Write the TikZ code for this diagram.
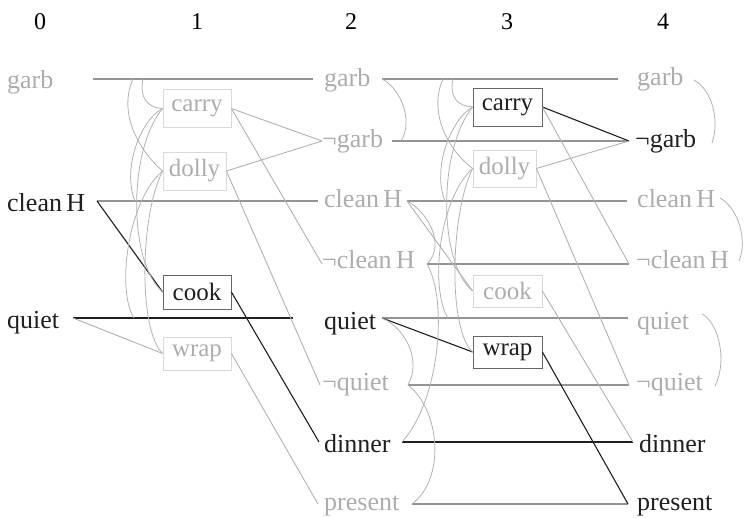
\documentclass[tikz,border=0pt]{standalone}
\usepackage{fontspec}
\setmainfont{Liberation Serif}
\definecolor{txtgray}{gray}{0.68}
\definecolor{persgray}{gray}{0.58}
\definecolor{thingray}{gray}{0.70}
\definecolor{boxoff}{gray}{0.85}
\definecolor{boxon}{gray}{0.40}
\definecolor{ink}{gray}{0.12}
\begin{document}
\begin{tikzpicture}[x=1pt,y=-1pt,
  lbl/.style={anchor=base west, inner sep=0pt, font=\fontsize{26}{30}\selectfont},
  num/.style={inner sep=0pt, font=\fontsize{24}{28}\selectfont},
  dim/.style={text=txtgray},
  lit/.style={text=ink},
  act/.style={draw, rectangle, inner sep=0pt, line width=0.8pt, font=\fontsize{25}{30}\selectfont},
  actoff/.style={act, draw=boxoff, text=txtgray},
  acton/.style={act, draw=boxon, text=ink},
  pers/.style={draw=persgray, line width=1.7pt},
  perslit/.style={draw=ink, line width=1.6pt},
  link/.style={draw=thingray, line width=0.9pt},
  linklit/.style={draw=ink, line width=1.1pt},
  mutex/.style={draw=thingray, line width=0.8pt}
]
\useasboundingbox (0,0) rectangle (744,518);

% level numbers
\node[num] (n0) at (40,22) {0};
\node[num] (n1) at (197,22) {1};
\node[num] (n2) at (351,22) {2};
\node[num] (n3) at (507,22) {3};
\node[num] (n4) at (663,22) {4};

% ---- propositions, level 0
\node[lbl,dim] (garb0) at (7,89) {garb};
\node[lbl,lit] (clean0) at (7,212) {clean\,H};
\node[lbl,lit] (quiet0) at (7,329) {quiet};

% ---- propositions, level 2
\node[lbl,dim] (garb2)  at (324,87)  {garb};
\node[lbl,dim] (ngarb2) at (322,148) {¬garb};
\node[lbl,dim] (clean2) at (324,208) {clean\,H};
\node[lbl,dim] (nclean2) at (322,269) {¬clean\,H};
\node[lbl,lit] (quiet2) at (324,330) {quiet};
\node[lbl,dim] (nquiet2) at (322,391) {¬quiet};
\node[lbl,lit] (dinner2) at (324,452) {dinner};
\node[lbl,dim] (present2) at (324,510.5) {present};

% ---- propositions, level 4
\node[lbl,dim] (garb4)  at (637,86)  {garb};
\node[lbl,lit] (ngarb4) at (635,148) {¬garb};
\node[lbl,dim] (clean4) at (637,208) {clean\,H};
\node[lbl,dim] (nclean4) at (636,269) {¬clean\,H};
\node[lbl,dim] (quiet4) at (637,330) {quiet};
\node[lbl,dim] (nquiet4) at (636,391) {¬quiet};
\node[lbl,lit] (dinner4) at (639,452) {dinner};
\node[lbl,lit] (present4) at (637,510.5) {present};

% ---- actions, level 1
\node[actoff, minimum width=68pt, minimum height=38pt] (carry1) at (197,108.5) {carry};
\node[actoff, minimum width=63pt, minimum height=38pt] (dolly1) at (194.5,171) {dolly};
\node[acton,  minimum width=68pt, minimum height=34pt] (cook1)  at (197,292)   {cook};
\node[actoff, minimum width=68pt, minimum height=33pt] (wrap1)  at (197,353.5) {wrap};

% ---- actions, level 3
\node[acton,  minimum width=69pt, minimum height=38pt] (carry3) at (507.5,107)   {carry};
\node[actoff, minimum width=63pt, minimum height=37pt] (dolly3) at (504.5,168.5) {dolly};
\node[actoff, minimum width=69pt, minimum height=32pt] (cook3)  at (507.5,291)   {cook};
\node[acton,  minimum width=69pt, minimum height=32pt] (wrap3)  at (507.5,352)   {wrap};

% ---- attachment points of the proposition lines
% level 0 outputs
\coordinate (g0o) at (93,79);
\coordinate (c0o) at (97,201);
\coordinate (q0o) at (73,318);
% level 2 inputs
\coordinate (g2i)  at (313,79);
\coordinate (ng2i) at (322,141);
\coordinate (c2i)  at (318,201);
\coordinate (nc2i) at (322,264);
\coordinate (q2i)  at (293,318);
\coordinate (nq2i) at (320,385);
\coordinate (d2i)  at (319,442);
\coordinate (p2i)  at (318,504);
% level 2 outputs
\coordinate (g2o)  at (382,79);
\coordinate (ng2o) at (392,141);
\coordinate (c2o)  at (407,201);
\coordinate (nc2o) at (427,264);
\coordinate (q2o)  at (382,318);
\coordinate (nq2o) at (408,385);
\coordinate (d2o)  at (402,442);
\coordinate (p2o)  at (412,504);
% level 4 inputs
\coordinate (g4i)  at (618,79);
\coordinate (ng4i) at (629,141);
\coordinate (c4i)  at (627,201);
\coordinate (nc4i) at (629,264);
\coordinate (q4i)  at (628,318);
\coordinate (nq4i) at (629,385);
\coordinate (d4i)  at (633,442);
\coordinate (p4i)  at (628,504);
% feet of the mutex arcs on the persistence lines
\coordinate (g0a) at (143,79);
\coordinate (g0b) at (133,79);
\coordinate (c0m) at (135,201);
\coordinate (q0m) at (134,318);
\coordinate (g2a) at (453,79);
\coordinate (g2b) at (443,79);
\coordinate (c2m) at (445,201);
\coordinate (q2m) at (448,318);
\coordinate (ng2m) at (401,141);
% right ends of the level 4 mutex arcs
\coordinate (g4m)  at (694,80);
\coordinate (ng4m) at (712,143);
\coordinate (c4m)  at (720,198);
\coordinate (nc4m) at (739,261);
\coordinate (q4m)  at (702,314);
\coordinate (nq4m) at (715,386);

% ---- persistence (no-op) lines
\draw[pers] (g0o) -- (g2i);
\draw[pers] (c0o) -- (c2i);
\draw[perslit] (q0o) -- (q2i);

\draw[pers] (g2o) -- (g4i);
\draw[pers] (ng2o) -- (ng4i);
\draw[pers] (c2o) -- (c4i);
\draw[pers] (nc2o) -- (nc4i);
\draw[pers] (q2o) -- (q4i);
\draw[pers] (nq2o) -- (nq4i);
\draw[draw=ink, line width=2.2pt] (d2o) -- (d4i);
\draw[pers] (p2o) -- (p4i);

% ---- preconditions and effects, level 0 -> 2
\draw[linklit] (c0o) -- (cook1.west);
\draw[link] (q0o) -- (wrap1.west);
\draw[link] (carry1.east) -- (ng2i);
\draw[link] (carry1.east) -- (nc2i);
\draw[link] (dolly1.east) -- (ng2i);
\draw[link] (dolly1.east) -- (nq2i);
\draw[linklit] (cook1.east) -- (d2i);
\draw[link] (wrap1.east) -- (p2i);

% ---- preconditions and effects, level 2 -> 4
\draw[linklit] (q2o) -- (wrap3.west);
\draw[link] (c2o) -- (cook3.west);
\draw[linklit] (carry3.east) -- (ng4i);
\draw[link] (carry3.east) -- (nc4i);
\draw[link] (dolly3.east) -- (ng4i);
\draw[link] (dolly3.east) -- (nq4i);
\draw[link] (cook3.east) -- (d4i);
\draw[linklit] (wrap3.east) -- (p4i);

% ---- mutex arcs among level 1 actions
\draw[mutex] (g0a) .. controls (139,98) and (148,108) .. (carry1.west);
\draw[mutex] (g0b) .. controls (118,112) and (138,150) .. (dolly1.west);
\draw[mutex] (carry1.west) .. controls (140,120) and (122,170) .. (c0m);
\draw[mutex] (carry1.west) .. controls (128,150) and (128,262) .. (cook1.west);
\draw[mutex] (dolly1.west) .. controls (128,200) and (116,290) .. (q0m);
\draw[mutex] (dolly1.west) .. controls (140,215) and (138,330) .. (wrap1.west);

% ---- mutex arcs among level 2 propositions
\draw[mutex] (g2o) .. controls (400,88) and (414,120) .. (ng2m);
\draw[mutex] (c2o) .. controls (428,212) and (446,245) .. (nc2o);
\draw[mutex] (q2o) .. controls (405,328) and (422,360) .. (nq2o);
\draw[mutex] (nq2o) .. controls (440,410) and (446,478) .. (p2o);
\draw[mutex] (d2o) .. controls (440,400) and (448,300) .. (nc2o);

% ---- mutex arcs among level 3 actions
\draw[mutex] (g2a) .. controls (449,98) and (458,106) .. (carry3.west);
\draw[mutex] (g2b) .. controls (428,112) and (448,150) .. (dolly3.west);
\draw[mutex] (carry3.west) .. controls (450,120) and (432,170) .. (c2m);
\draw[mutex] (carry3.west) .. controls (438,150) and (438,262) .. (cook3.west);
\draw[mutex] (dolly3.west) .. controls (438,200) and (430,290) .. (q2m);
\draw[mutex] (dolly3.west) .. controls (450,215) and (448,330) .. (wrap3.west);

% ---- mutex arcs among level 4 propositions
\draw[mutex] (g4m) .. controls (712,90) and (720,120) .. (ng4m);
\draw[mutex] (c4m) .. controls (738,208) and (748,240) .. (nc4m);
\draw[mutex] (q4m) .. controls (718,322) and (728,360) .. (nq4m);
\end{tikzpicture}
\end{document}
